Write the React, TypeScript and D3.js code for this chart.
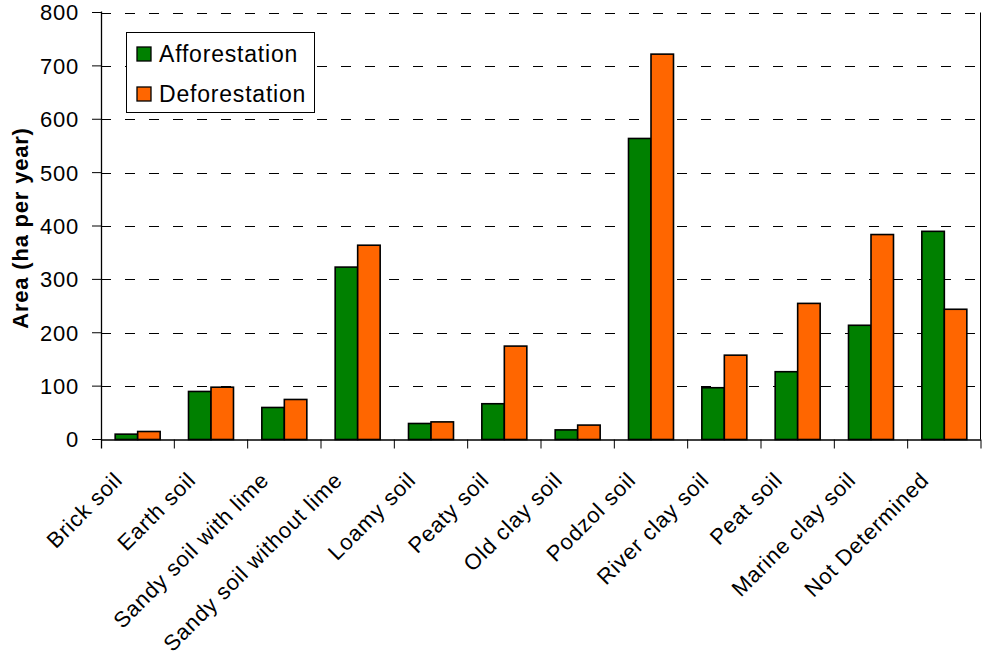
import React from "react";
import * as d3 from "d3";

const categories = [
  "Brick soil",
  "Earth soil",
  "Sandy soil with lime",
  "Sandy soil without lime",
  "Loamy soil",
  "Peaty soil",
  "Old clay soil",
  "Podzol soil",
  "River clay soil",
  "Peat soil",
  "Marine clay soil",
  "Not Determined",
];
const afforestation = [10, 90, 60, 323, 30, 67, 18, 564, 97, 127, 214, 390];
const deforestation = [15, 98, 75, 364, 33, 175, 27, 722, 158, 255, 384, 244];
const seriesNames = ["Afforestation", "Deforestation"];
const seriesColors = ["#008000", "#FF6600"];
const yTicks = [0, 100, 200, 300, 400, 500, 600, 700, 800];

const W = 982;
const H = 656;
const left = 101;
const right = 981;
const top = 12.5;
const bottom = 439.5;
const font = "'Liberation Sans', Arial, sans-serif";

export default function App() {
  const x = d3.scaleBand<string>().domain(categories).range([left, right]).paddingInner(0).paddingOuter(0);
  const inner = d3
    .scaleBand<number>()
    .domain([0, 1])
    .range([0, x.bandwidth()])
    .paddingInner(0)
    .paddingOuter(0.63);
  const y = d3.scaleLinear().domain([0, 800]).range([bottom, top]);
  const series = [afforestation, deforestation];

  return (
    <svg
      width={W}
      height={H}
      style={{ position: "absolute", left: 0, top: 0, background: "#fff" }}
      fontFamily={font}
    >
      {/* dashed gridlines */}
      {yTicks.filter((t) => t > 0).map((t) => (
        <line
          key={"g" + t}
          x1={left}
          x2={right}
          y1={Math.round(y(t)) + 0.5}
          y2={Math.round(y(t)) + 0.5}
          stroke="#000"
          strokeWidth={1}
          strokeDasharray="10,14"
        />
      ))}
      {/* right border */}
      <line x1={right - 0.5} x2={right - 0.5} y1={top} y2={bottom} stroke="#000" strokeWidth={1} />

      {/* bars */}
      {categories.map((c, i) =>
        series.map((s, k) => {
          const bx = (x(c) as number) + (inner(k) as number);
          return (
            <rect
              key={c + k}
              x={bx}
              y={y(s[i])}
              width={inner.bandwidth()}
              height={bottom - y(s[i])}
              fill={seriesColors[k]}
              stroke="#000"
              strokeWidth={1.6}
            />
          );
        })
      )}

      {/* y axis */}
      <line x1={left + 0.5} x2={left + 0.5} y1={top - 1} y2={bottom + 9} stroke="#000" strokeWidth={1.3} />
      {yTicks.map((t) => (
        <g key={"t" + t}>
          <line x1={left - 9} x2={left} y1={y(t)} y2={y(t)} stroke="#000" strokeWidth={1} />
          <text
            x={left - 22}
            y={y(t)}
            dy="0.36em"
            textAnchor="end"
            fontSize={22}
            letterSpacing={0.8}
            fill="#000"
          >
            {t}
          </text>
        </g>
      ))}
      <text
        transform={`translate(28,${(top + bottom) / 2 + 2}) rotate(-90)`}
        textAnchor="middle"
        fontSize={22}
        fontWeight="bold"
        letterSpacing={0.8}
        fill="#000"
      >
        Area (ha per year)
      </text>

      {/* x axis */}
      <line x1={left} x2={right} y1={bottom + 0.5} y2={bottom + 0.5} stroke="#000" strokeWidth={1.3} />
      {categories.map((c) => (
        <line
          key={"xt" + c}
          x1={(x(c) as number) + x.bandwidth()}
          x2={(x(c) as number) + x.bandwidth()}
          y1={bottom}
          y2={bottom + 9}
          stroke="#000"
          strokeWidth={1}
        />
      ))}
      {categories.map((c) => {
        const cx = (x(c) as number) + x.bandwidth() / 2 - 14;
        const cy = bottom + 42;
        return (
          <text
            key={"xl" + c}
            transform={`translate(${cx},${cy}) rotate(-45)`}
            textAnchor="end"
            fontSize={22}
            letterSpacing={0.8}
            fill="#000"
          >
            {c}
          </text>
        );
      })}

      {/* legend */}
      <rect x={126.5} y={32.5} width={188} height={80} fill="#fff" stroke="#000" strokeWidth={1} />
      {seriesNames.map((n, k) => (
        <g key={n}>
          <rect
            x={137}
            y={47 + k * 40}
            width={14}
            height={14}
            fill={seriesColors[k]}
            stroke="#000"
            strokeWidth={1.3}
          />
          <text x={159} y={62 + k * 40} fontSize={23} letterSpacing={0.8} fill="#000">
            {n}
          </text>
        </g>
      ))}
    </svg>
  );
}
